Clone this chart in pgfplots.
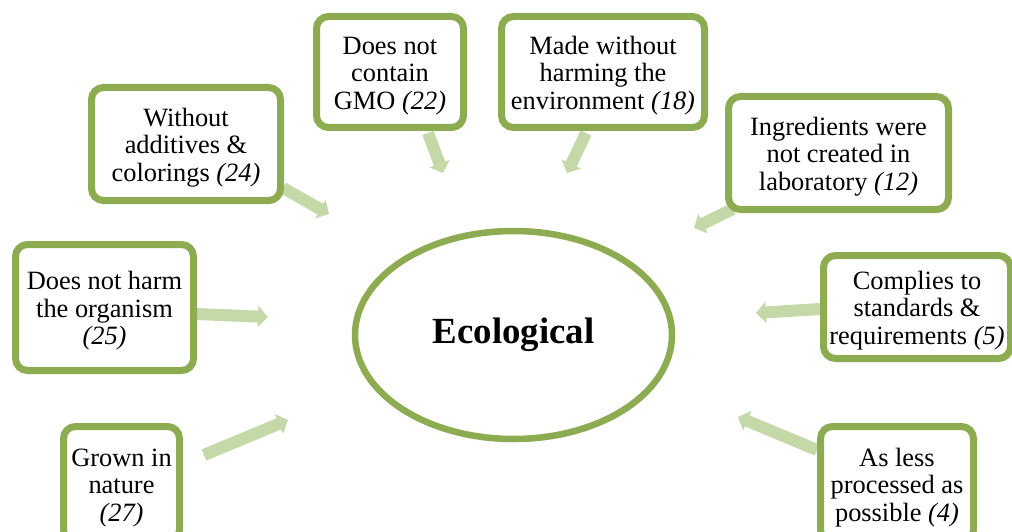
\documentclass[border=0pt]{standalone}
\usepackage{pgfplots}
\pgfplotsset{compat=1.18}
\usepackage{fontspec}
\setmainfont{Liberation Serif}
\usetikzlibrary{arrows.meta,shadows,shapes.geometric}
\definecolor{bgreen}{RGB}{141,171,80}
\definecolor{agreen}{RGB}{197,216,168}
\newcommand\boxfont{\fontsize{26.5}{27.5}\selectfont}
\newcommand\up{\rule{0pt}{25bp}}
\pgfplotsset{
  box/.style n args={3}{draw=none, mark=none, nodes near coords={\up #3}, nodes near coords align={center},
    every node near coord/.append style={anchor=center, shape=rectangle, rounded corners=12bp, draw=bgreen, line width=7bp, fill=white, minimum width=#1bp, minimum height=#2bp, align=center, inner sep=0pt, font=\boxfont, text=black, drop shadow={opacity=0.3, shadow xshift=2bp, shadow yshift=-3bp}}},
  arr/.style={agreen, line width=12bp, -{Triangle[width=21bp,length=10bp]}},
}
\begin{document}
\begin{tikzpicture}
\begin{axis}[width=1012bp, height=532bp, scale only axis, xmin=0, xmax=1012, ymin=0, ymax=532, y dir=reverse, hide axis, clip=false]
% arrows
\addplot[arr] coordinates {(283,188) (329,214)};
\addplot[arr] coordinates {(428,133) (443,173)};
\addplot[arr] coordinates {(586,133) (567,173)};
\addplot[arr] coordinates {(733,209) (694,228)};
\addplot[arr] coordinates {(820,309) (756,313)};
\addplot[arr] coordinates {(196,314) (268,317)};
\addplot[arr] coordinates {(204,455) (288,420)};
\addplot[arr] coordinates {(817,450) (738,417)};
% centre ellipse
\addplot[draw=none, mark=none, nodes near coords={Ecological}, nodes near coords align={center},
  every node near coord/.append style={anchor=center, shape=ellipse, draw=bgreen, line width=6.5bp, fill=white, minimum width=317bp, minimum height=208bp, inner sep=0pt, font=\fontsize{37}{40}\selectfont\bfseries, text=black, drop shadow={opacity=0.3, shadow xshift=2bp, shadow yshift=-3bp}}]
  coordinates {(513.5,335)};
% boxes
\addplot[box={189}{113}{Without\\additives \&\\colorings \textit{(24)}}] coordinates {(186,144)};
\addplot[box={147}{111}{Does not\\contain\\GMO \textit{(22)}}] coordinates {(390,72)};
\addplot[box={203}{111}{Made without\\harming the\\environment \textit{(18)}}] coordinates {(603,72)};
\addplot[box={220}{113}{Ingredients were\\not created in\\laboratory \textit{(12)}}] coordinates {(838.5,153)};
\addplot[box={187}{103}{Complies to\\standards \&\\requirements \textit{(5)}}] coordinates {(917,307)};
\addplot[box={178}{126}{Does not harm\\the organism\\\textit{(25)}}] coordinates {(104.5,307.5)};
\addplot[box={116}{115}{Grown in\\nature\\\textit{(27)}}] coordinates {(121.5,484)};
\addplot[box={153}{115}{As less\\processed as\\possible \textit{(4)}}] coordinates {(897,484)};
\end{axis}
\pgfresetboundingbox
\useasboundingbox (current axis.south west) rectangle (current axis.north east);
\end{tikzpicture}
\end{document}
